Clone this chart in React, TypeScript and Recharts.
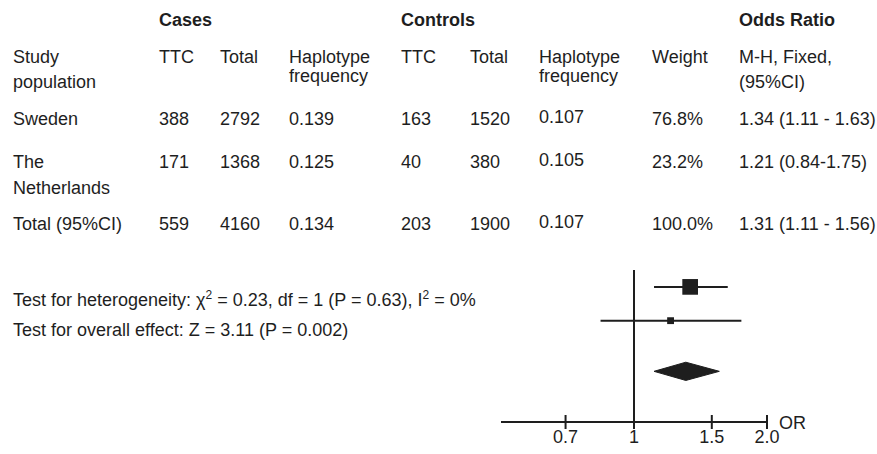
import React from 'react';
import { ComposedChart, Scatter, Area, XAxis, YAxis, ReferenceLine, ErrorBar } from 'recharts';

// study rows
const studyNames = [['Sweden'], ['The', 'Netherlands']];
const caseTTC = ['388', '171'];
const caseTotal = ['2792', '1368'];
const caseFreq = ['0.139', '0.125'];
const controlTTC = ['163', '40'];
const controlTotal = ['1520', '380'];
const controlFreq = ['0.107', '0.105'];
const weightText = ['76.8%', '23.2%'];
const weights = [76.8, 23.2];
const oddsRatio = [1.34, 1.21];
const ciLow = [1.11, 0.84];
const ciHigh = [1.63, 1.75];
const orText = ['1.34 (1.11 - 1.63)', '1.21 (0.84-1.75)'];

// pooled row
const totalCells = ['Total (95%CI)', '559', '4160', '0.134', '203', '1900', '0.107', '100.0%', '1.31 (1.11 - 1.56)'];
const totalOR = 1.31;
const totalLow = 1.11;
const totalHigh = 1.56;

// headers
const groupHeaders = [
  { label: 'Cases', col: 1 },
  { label: 'Controls', col: 4 },
  { label: 'Odds Ratio', col: 8 },
];
const columnHeaders = [
  ['Study', 'population'],
  ['TTC'],
  ['Total'],
  ['Haplotype', 'frequency'],
  ['TTC'],
  ['Total'],
  ['Haplotype', 'frequency'],
  ['Weight'],
  ['M-H, Fixed,', '(95%CI)'],
];

const axisTicks = [0.7, 1, 1.5, 2];
const axisTickLabels = ['0.7', '1', '1.5', '2.0'];

const heterogeneity = { chi2: '0.23', df: '1', p: '0.63', i2: '0%' };
const overall = { z: '3.11', p: '0.002' };

const ink = '#1e1e1e';
const font = '"Liberation Sans", Arial, Helvetica, sans-serif';
const colX = [13, 159, 220, 289, 401, 470, 539, 652, 739];
const rowY = [125, 168];
const totalY = 230;

const points = oddsRatio.map((or, i) => ({
  x: or,
  y: i,
  weight: weights[i],
  err: [or - ciLow[i], ciHigh[i] - or],
}));

// pooled estimate row sits half a row below the studies
const totalRowIndex = oddsRatio.length + 0.5;
const diamondHalf = 0.27;
const diamond = [
  { x: totalLow, band: [totalRowIndex, totalRowIndex] },
  { x: totalOR, band: [totalRowIndex - diamondHalf, totalRowIndex + diamondHalf] },
  { x: totalHigh, band: [totalRowIndex, totalRowIndex] },
];

const WeightSquare = (props: any) => {
  const { cx, cy, payload } = props;
  const s = 3 + payload.weight * 0.165;
  return <rect x={cx - s / 2} y={cy - s / 2} width={s} height={s} fill={ink} />;
};

const AxisTick = ({ x, y, payload }: any) => (
  <g>
    <line x1={x} x2={x} y1={y - 7} y2={y + 7} stroke={ink} strokeWidth={2} />
    <text x={x} y={y + 21} textAnchor="middle" fontSize={18} fill={ink} fontFamily={font}>
      {axisTickLabels[axisTicks.indexOf(payload.value)]}
    </text>
  </g>
);

const OrLabel = ({ viewBox }: any) => (
  <text x={viewBox.x + viewBox.width + 12} y={viewBox.y + 7} fontSize={18} fill={ink} fontFamily={font}>
    OR
  </text>
);

function Cell({ x, y, lines, gap = 25, bold = false }: { x: number; y: number; lines: string[]; gap?: number; bold?: boolean }) {
  return (
    <text x={x} y={y} fontSize={18} fill={ink} fontFamily={font} fontWeight={bold ? 700 : 400}>
      {lines.map((l, i) => (
        <tspan key={i} x={x} dy={i === 0 ? 0 : gap}>
          {l}
        </tspan>
      ))}
    </text>
  );
}

function Table() {
  return (
    <svg width={877} height={454} style={{ position: 'absolute', left: 0, top: 0, pointerEvents: 'none' }}>
      {groupHeaders.map((g) => (
        <Cell key={g.label} x={colX[g.col]} y={26} lines={[g.label]} bold />
      ))}
      {columnHeaders.map((h, c) => (
        <Cell key={c} x={colX[c]} y={63} lines={h} gap={h[0] === 'Haplotype' ? 19 : 25} />
      ))}
      {studyNames.map((name, r) => {
        const cells = [caseTTC[r], caseTotal[r], caseFreq[r], controlTTC[r], controlTotal[r], controlFreq[r], weightText[r], orText[r]];
        return (
          <g key={r}>
            <Cell x={colX[0]} y={rowY[r]} lines={name} gap={26} />
            {cells.map((v, c) => (
              <Cell key={c} x={colX[c + 1]} y={rowY[r] - (c === 5 ? 2 : 0)} lines={[v]} />
            ))}
          </g>
        );
      })}
      {totalCells.map((v, c) => (
        <Cell key={c} x={colX[c]} y={totalY - (c === 6 ? 2 : 0)} lines={[v]} />
      ))}
      <text x={13} y={306} fontSize={18} fill={ink} fontFamily={font}>
        Test for heterogeneity: χ<tspan dy={-7} fontSize={12}>2</tspan>
        <tspan dy={7}>{` = ${heterogeneity.chi2}, df = ${heterogeneity.df} (P = ${heterogeneity.p}), I`}</tspan>
        <tspan dy={-7} fontSize={12}>2</tspan>
        <tspan dy={7}>{` = ${heterogeneity.i2}`}</tspan>
      </text>
      <text x={13} y={336} fontSize={18} fill={ink} fontFamily={font}>
        {`Test for overall effect: Z = ${overall.z} (P = ${overall.p})`}
      </text>
    </svg>
  );
}

export default function App() {
  return (
    <div style={{ position: 'absolute', left: 0, top: 0, width: 877, height: 454, background: '#fff' }}>
      <ComposedChart width={877} height={454} data={diamond} margin={{ top: 270, right: 110, bottom: 2, left: 501 }}>
        <XAxis
          type="number"
          dataKey="x"
          scale="log"
          domain={[0.5, 2]}
          allowDataOverflow
          ticks={axisTicks}
          interval={0}
          height={30}
          tickSize={0}
          tickMargin={0}
          tickLine={false}
          axisLine={{ stroke: ink, strokeWidth: 2 }}
          tick={<AxisTick />}
          label={<OrLabel />}
        />
        <YAxis type="number" dataKey="y" domain={[-0.5, 4]} reversed hide allowDataOverflow />
        <ReferenceLine x={1} stroke={ink} strokeWidth={2} />
        <Area
          type="linear"
          dataKey="band"
          stroke={ink}
          strokeWidth={1}
          fill={ink}
          fillOpacity={1}
          isAnimationActive={false}
          dot={false}
          activeDot={false}
        />
        <Scatter data={points} shape={<WeightSquare />} isAnimationActive={false}>
          <ErrorBar dataKey="err" direction="x" width={0} stroke={ink} strokeWidth={2} isAnimationActive={false} />
        </Scatter>
      </ComposedChart>
      <Table />
    </div>
  );
}
